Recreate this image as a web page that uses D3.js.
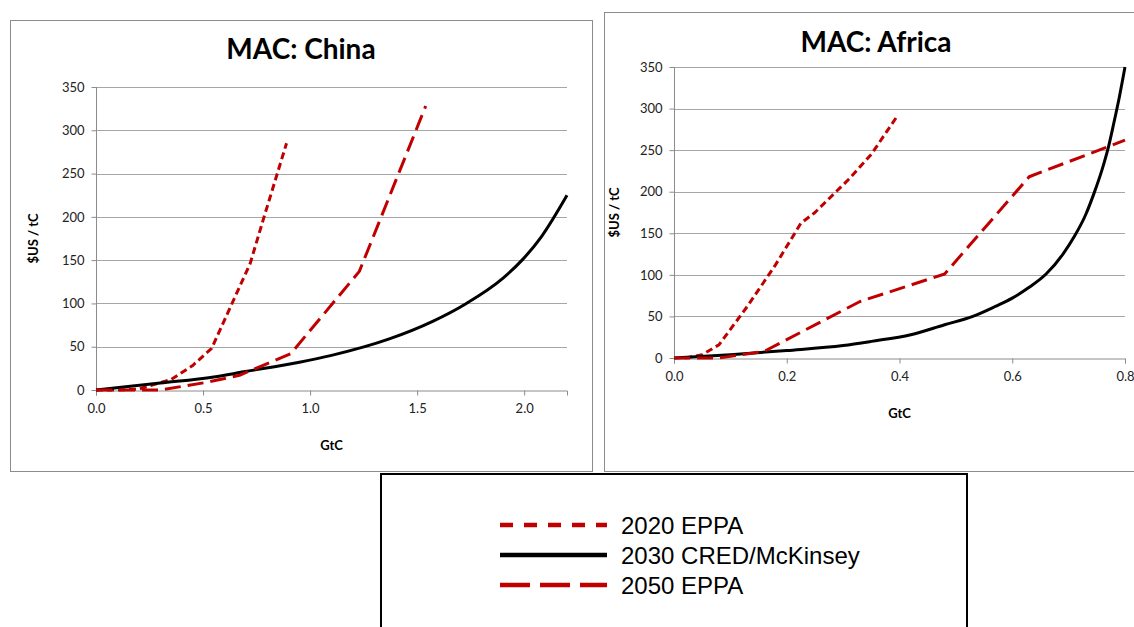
<!DOCTYPE html>
<html>
<head>
<meta charset="utf-8">
<script src="https://cdn.jsdelivr.net/npm/d3@7"></script>
<style>
  body { margin: 0; background: #fff; }
  svg { display: block; }
</style>
</head>
<body>
<div id="chart"></div>
<script>
// series names
const seriesNames = ['2020 EPPA', '2030 CRED/McKinsey', '2050 EPPA'];

// China, [GtC, $US/tC]
const china2020 = [[0,0],[0.1,0],[0.2,1],[0.35,12],[0.45,28],[0.54,48],[0.72,146],[0.785,200],[0.89,285]];
const chinaCred = [[0,0],[0.3,8],[0.55,15],[0.69,21],[0.95,32],[1.1,40],[1.37,59],[1.57,79],[1.73,100],[1.9,129],[1.99,150],[2.08,177],[2.2,225]];
const china2050 = [[0,0],[0.3,0],[0.52,9],[0.67,17],[0.91,42],[1.23,137],[1.54,328]];

// Africa, [GtC, $US/tC]
const africa2020 = [[0.02,0],[0.05,4],[0.08,16],[0.13,62],[0.18,112],[0.225,162],[0.25,175],[0.31,215],[0.35,245],[0.395,290]];
const africaCred = [[0,0],[0.1,4],[0.2,9],[0.3,15],[0.35,20],[0.42,28],[0.48,40],[0.53,50],[0.57,62],[0.6,72],[0.63,85],[0.66,101],[0.69,125],[0.71,146],[0.73,172],[0.745,198],[0.76,228],[0.77,252],[0.78,282],[0.79,314],[0.8,350]];
const africa2050 = [[0,0],[0.08,0],[0.16,8],[0.33,68],[0.48,101],[0.63,218],[0.8,262]];

// tick values
const yTicks = [0, 50, 100, 150, 200, 250, 300, 350];
const chinaXTicks = [0, 0.5, 1.0, 1.5, 2.0];
const africaXTicks = [0, 0.2, 0.4, 0.6, 0.8];

const W = 1134, H = 627;
const red = '#c00000';
const styles = [
  {color: red, width: 3, dash: '7,4'},
  {color: '#000', width: 3, dash: null},
  {color: red, width: 3, dash: '16,7'}
];

const svg = d3.select('#chart').append('svg')
  .attr('width', W)
  .attr('height', H);

function drawPanel(p) {
  // outer frame
  svg.append('rect')
    .attr('x', p.box[0] + 0.5).attr('y', p.box[1] + 0.5)
    .attr('width', p.box[2]).attr('height', p.box[3])
    .attr('fill', '#fff').attr('stroke', '#8c8c8c');

  const x = d3.scaleLinear().domain(p.xDomain).range([p.left, p.right]);
  const y = d3.scaleLinear().domain([0, 350]).range([p.bottom, p.top]);

  const g = svg.append('g');

  // gridlines
  g.selectAll('.grid')
    .data(yTicks.filter(d => d > 0))
    .join('line')
    .attr('x1', p.left).attr('x2', p.right)
    .attr('y1', d => Math.round(y(d)) + 0.5).attr('y2', d => Math.round(y(d)) + 0.5)
    .attr('stroke', '#a6a6a6');

  const yAxis = d3.axisLeft(y).tickValues(yTicks).tickSize(5).tickPadding(7);
  const xAxis = d3.axisBottom(x).tickValues(p.xTicks).tickSize(5).tickPadding(8)
    .tickFormat(d3.format('.1f'));

  const ya = g.append('g')
    .attr('transform', 'translate(' + (Math.round(p.left) + 0.5) + ',0)')
    .call(yAxis);
  const xa = g.append('g')
    .attr('transform', 'translate(0,' + (Math.round(p.bottom) + 0.5) + ')')
    .call(xAxis);
  [ya, xa].forEach(a => {
    a.selectAll('path, line').attr('stroke', '#8c8c8c');
    a.selectAll('text').attr('font-family', 'Lato, "Open Sans", sans-serif')
      .attr('font-size', 13).attr('fill', '#222');
  });
  ya.select('.domain').attr('d', 'M0,' + p.bottom + 'V' + p.top);

  // title and axis titles
  svg.append('text')
    .attr('x', p.titleX).attr('y', p.titleY)
    .attr('text-anchor', 'middle')
    .attr('font-family', 'Lato, sans-serif').attr('font-weight', 'bold')
    .attr('font-size', 28)
    .text(p.title);
  svg.append('text')
    .attr('x', (p.left + p.right) / 2).attr('y', p.bottom + 60)
    .attr('text-anchor', 'middle')
    .attr('font-family', 'Lato, sans-serif').attr('font-weight', 'bold')
    .attr('font-size', 13)
    .text('GtC');
  svg.append('text')
    .attr('transform', 'translate(' + p.yLabelX + ',' + ((p.top + p.bottom) / 2) + ') rotate(-90)')
    .attr('text-anchor', 'middle')
    .attr('font-family', 'Lato, sans-serif').attr('font-weight', 'bold')
    .attr('font-size', 13)
    .text('$US / tC');

  const line = d3.line()
    .x(d => x(d[0])).y(d => y(d[1]));
  const smooth = d3.line()
    .x(d => x(d[0])).y(d => y(d[1]))
    .curve(d3.curveMonotoneX);

  p.series.forEach((s, i) => {
    const st = styles[i];
    g.append('path')
      .datum(s)
      .attr('d', i === 1 ? smooth : line)
      .attr('fill', 'none')
      .attr('stroke', st.color)
      .attr('stroke-width', st.width)
      .attr('stroke-dasharray', st.dash)
      .attr('stroke-linejoin', 'round');
  });
}

drawPanel({
  box: [10, 20, 582, 451],
  left: 96, right: 567, top: 87, bottom: 390,
  xDomain: [0, 2.2], xTicks: chinaXTicks,
  title: 'MAC: China', titleX: 301, titleY: 59,
  yLabelX: 38,
  series: [china2020, chinaCred, china2050]
});

drawPanel({
  box: [604, 12, 540, 459],
  left: 674, right: 1125, top: 67, bottom: 358,
  xDomain: [0, 0.8], xTicks: africaXTicks,
  title: 'MAC: Africa', titleX: 876, titleY: 52,
  yLabelX: 619,
  series: [africa2020, africaCred, africa2050]
});

// legend
const legend = svg.append('g');
legend.append('rect')
  .attr('x', 381).attr('y', 474)
  .attr('width', 586).attr('height', 170)
  .attr('fill', '#fff').attr('stroke', '#000').attr('stroke-width', 2);

const legendDash = ['13,11', null, '30,10'];
const legendY = d3.scalePoint().domain(seriesNames).range([525, 585]);

seriesNames.forEach((name, i) => {
  const yy = legendY(name);
  legend.append('line')
    .attr('x1', 500).attr('x2', 607)
    .attr('y1', yy).attr('y2', yy)
    .attr('stroke', styles[i].color)
    .attr('stroke-width', 4.5)
    .attr('stroke-dasharray', legendDash[i]);
  legend.append('text')
    .attr('x', 621).attr('y', yy)
    .attr('dy', '0.36em')
    .attr('font-family', '"Liberation Sans", Arial, sans-serif')
    .attr('font-size', 24)
    .text(name);
});
</script>
</body>
</html>
